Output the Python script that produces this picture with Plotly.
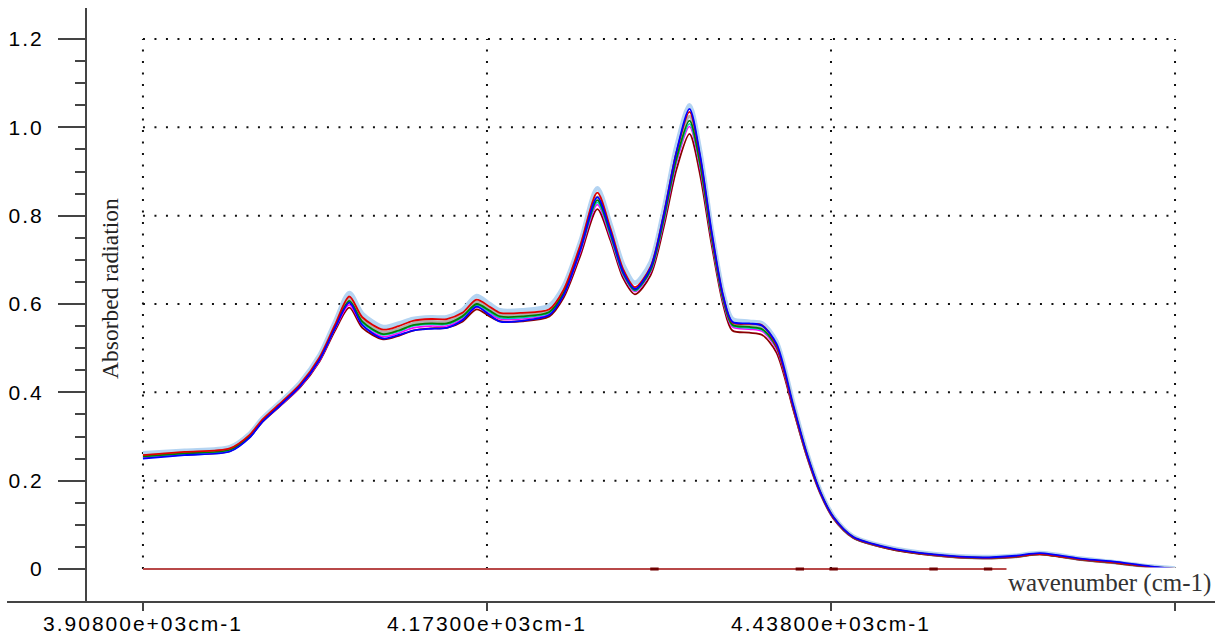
import plotly.graph_objects as go

wavenumber = [3908, 3940, 3975, 3990, 4000, 4016, 4029, 4044, 4056, 4067, 4077, 4093, 4105, 4116, 4130,
              4142, 4154, 4165, 4175, 4183, 4200, 4221, 4232, 4245, 4258, 4268, 4278, 4287, 4299, 4309,
              4319, 4329, 4337, 4346, 4355, 4362, 4375, 4385, 4396, 4409, 4419, 4430, 4440, 4455, 4481,
              4517, 4555, 4580, 4599, 4632, 4658, 4684, 4703]

spec_lightblue = [0.262, 0.268, 0.276, 0.306, 0.341, 0.384, 0.422, 0.484, 0.560, 0.625, 0.578, 0.548, 0.556, 0.566, 0.570,
                  0.570, 0.586, 0.618, 0.600, 0.586, 0.586, 0.596, 0.640, 0.742, 0.862, 0.782, 0.688, 0.648, 0.694, 0.812,
                  0.958, 1.050, 0.950, 0.772, 0.625, 0.566, 0.560, 0.556, 0.515, 0.375, 0.268, 0.176, 0.119, 0.074, 0.050,
                  0.034, 0.027, 0.030, 0.036, 0.023, 0.015, 0.006, 0.001]
spec_gray = [0.256, 0.263, 0.271, 0.301, 0.336, 0.379, 0.416, 0.477, 0.550, 0.612, 0.565, 0.536, 0.544, 0.556, 0.560,
             0.560, 0.576, 0.605, 0.589, 0.576, 0.576, 0.585, 0.628, 0.729, 0.842, 0.766, 0.674, 0.635, 0.680, 0.795,
             0.937, 1.025, 0.928, 0.756, 0.613, 0.555, 0.551, 0.547, 0.506, 0.368, 0.263, 0.172, 0.116, 0.072, 0.048,
             0.032, 0.025, 0.028, 0.034, 0.021, 0.014, 0.005, 0.0]
spec_darkred = [0.252, 0.259, 0.267, 0.298, 0.333, 0.375, 0.411, 0.470, 0.540, 0.592, 0.546, 0.520, 0.528, 0.540, 0.545,
                0.546, 0.560, 0.588, 0.572, 0.561, 0.561, 0.572, 0.614, 0.710, 0.815, 0.745, 0.658, 0.622, 0.665, 0.772,
                0.905, 0.985, 0.895, 0.735, 0.598, 0.540, 0.535, 0.530, 0.490, 0.360, 0.259, 0.170, 0.114, 0.071, 0.047,
                0.031, 0.024, 0.027, 0.033, 0.020, 0.013, 0.004, 0.0]
spec_magenta = [0.253, 0.260, 0.268, 0.299, 0.334, 0.376, 0.413, 0.472, 0.544, 0.598, 0.552, 0.526, 0.534, 0.546, 0.550,
                0.550, 0.566, 0.593, 0.578, 0.566, 0.566, 0.577, 0.620, 0.718, 0.825, 0.752, 0.664, 0.628, 0.672, 0.782,
                0.920, 1.002, 0.910, 0.745, 0.605, 0.548, 0.543, 0.538, 0.498, 0.364, 0.261, 0.171, 0.115, 0.072, 0.048,
                0.032, 0.025, 0.028, 0.034, 0.021, 0.014, 0.005, 0.0]
spec_cyan = [0.254, 0.261, 0.269, 0.300, 0.335, 0.378, 0.415, 0.475, 0.547, 0.604, 0.557, 0.530, 0.538, 0.550, 0.554,
             0.554, 0.570, 0.597, 0.582, 0.569, 0.569, 0.580, 0.623, 0.722, 0.830, 0.756, 0.667, 0.630, 0.675, 0.786,
             0.925, 1.008, 0.915, 0.749, 0.608, 0.551, 0.546, 0.541, 0.501, 0.366, 0.262, 0.172, 0.116, 0.072, 0.048,
             0.032, 0.025, 0.028, 0.034, 0.021, 0.014, 0.005, 0.0]
spec_green = [0.255, 0.262, 0.270, 0.300, 0.335, 0.378, 0.415, 0.475, 0.548, 0.607, 0.560, 0.532, 0.540, 0.552, 0.556,
              0.556, 0.572, 0.600, 0.585, 0.572, 0.572, 0.582, 0.625, 0.725, 0.835, 0.760, 0.670, 0.632, 0.677, 0.790,
              0.930, 1.015, 0.920, 0.752, 0.610, 0.553, 0.548, 0.543, 0.503, 0.367, 0.263, 0.172, 0.116, 0.072, 0.048,
              0.032, 0.025, 0.028, 0.034, 0.021, 0.014, 0.005, 0.0]
spec_red = [0.258, 0.265, 0.273, 0.303, 0.338, 0.381, 0.418, 0.479, 0.553, 0.617, 0.570, 0.542, 0.550, 0.562, 0.566,
            0.566, 0.580, 0.610, 0.594, 0.580, 0.580, 0.588, 0.632, 0.734, 0.852, 0.772, 0.678, 0.638, 0.684, 0.800,
            0.944, 1.035, 0.935, 0.760, 0.616, 0.558, 0.555, 0.552, 0.505, 0.366, 0.262, 0.171, 0.116, 0.072, 0.048,
            0.032, 0.025, 0.028, 0.034, 0.021, 0.014, 0.005, 0.0]
spec_blue = [0.250, 0.258, 0.266, 0.297, 0.333, 0.377, 0.414, 0.474, 0.546, 0.603, 0.552, 0.522, 0.530, 0.540, 0.544,
             0.546, 0.563, 0.594, 0.575, 0.560, 0.562, 0.575, 0.620, 0.724, 0.842, 0.765, 0.672, 0.634, 0.682, 0.800,
             0.945, 1.042, 0.940, 0.765, 0.618, 0.560, 0.556, 0.551, 0.510, 0.370, 0.265, 0.173, 0.117, 0.073, 0.049,
             0.033, 0.026, 0.030, 0.036, 0.023, 0.016, 0.006, 0.0]

zero_line_x = [3908, 4700]
zero_line_y = [0, 0]
zero_marks_x = [4302, 4414, 4440, 4517, 4559]
zero_marks_y = [0, 0, 0, 0, 0]

x_tick_vals = [3908, 4173, 4438, 4703]
x_tick_text = ["3.90800e+03cm-1", "4.17300e+03cm-1", "4.43800e+03cm-1", ""]
y_tick_vals = [0, 0.2, 0.4, 0.6, 0.8, 1.0, 1.2]
y_tick_text = ["0", "0.2", "0.4", "0.6", "0.8", "1.0", "1.2"]
y_minor_vals = [0.05, 0.1, 0.15, 0.25, 0.3, 0.35, 0.45, 0.5, 0.55, 0.65, 0.7, 0.75,
                0.85, 0.9, 0.95, 1.05, 1.1, 1.15]

series = [
    (spec_lightblue, "#b4d4f2", 4.5),
    (spec_gray, "#b0b0b0", 3.2),
    (spec_darkred, "#8b0000", 1.8),
    (spec_magenta, "#ff00ff", 1.6),
    (spec_cyan, "#00c8c8", 1.6),
    (spec_green, "#008000", 1.8),
    (spec_red, "#e00000", 1.8),
    (spec_blue, "#0000ff", 1.8),
]

fig = go.Figure()
for vals, color, w in series:
    fig.add_trace(go.Scatter(x=wavenumber, y=vals, mode="lines",
                             line=dict(color=color, width=w, shape="spline", smoothing=0.8),
                             showlegend=False, hoverinfo="skip"))

fig.add_trace(go.Scatter(x=zero_line_x, y=zero_line_y, mode="lines",
                         line=dict(color="#b84848", width=2), showlegend=False))
fig.add_trace(go.Scatter(x=zero_marks_x, y=zero_marks_y, mode="markers",
                         marker=dict(symbol="line-ew", size=6, line=dict(color="#700000", width=3)),
                         showlegend=False))

shapes = []
for xv in x_tick_vals:
    shapes.append(dict(type="line", xref="x", yref="y", x0=xv, x1=xv, y0=0, y1=y_tick_vals[-1],
                       line=dict(color="#111", width=2, dash="2px,9.5px"), layer="below"))
for yv in y_tick_vals[1:]:
    shapes.append(dict(type="line", xref="x", yref="y", x0=x_tick_vals[0], x1=x_tick_vals[-1], y0=yv, y1=yv,
                       line=dict(color="#111", width=2, dash="2px,9.5px"), layer="below"))
# x axis baseline extending left of the y axis
shapes.append(dict(type="line", xref="paper", yref="paper", x0=-0.0709, x1=1, y0=0, y1=0,
                   line=dict(color="#444", width=2)))

def spaced(t, s=2):
    return f'<span style="letter-spacing:{s}px">{t}</span>' if t else t

fig.update_layout(
    width=1225, height=639,
    margin=dict(l=87, r=10, t=8, b=37),
    paper_bgcolor="white", plot_bgcolor="white",
    shapes=shapes,
    xaxis=dict(range=[3864.9, 4733.8], showgrid=False, zeroline=False, showline=False, automargin=False,
               tickmode="array", tickvals=x_tick_vals, ticktext=[spaced(t) for t in x_tick_text],
               ticks="outside", ticklen=8, tickwidth=2, tickcolor="#444",
               ticklabelstandoff=-5,
               tickfont=dict(family="Liberation Sans, Arial", size=21, color="#000")),
    yaxis=dict(range=[-0.0747, 1.2702], showgrid=False, zeroline=False, showline=True, automargin=False,
               linecolor="#444", linewidth=2,
               tickmode="array", tickvals=y_tick_vals, ticktext=[spaced(t) for t in y_tick_text],
               ticks="outside", ticklen=27, tickwidth=2, tickcolor="#444",
               ticklabelstandoff=10,
               tickfont=dict(family="Liberation Sans, Arial", size=21, color="#000"),
               minor=dict(tickmode="array", tickvals=y_minor_vals, ticks="outside",
                          ticklen=10, tickwidth=2, tickcolor="#444")),
    annotations=[
        dict(text="Absorbed radiation", xref="paper", yref="paper", x=0.0204, y=0.527,
             textangle=-90, showarrow=False, xanchor="center", yanchor="middle",
             font=dict(family="Liberation Serif, Times New Roman", size=23.5, color="#222")),
        dict(text="wavenumber (cm-1)", xref="paper", yref="paper", x=0.998, y=0.032,
             showarrow=False, xanchor="right", yanchor="middle", bgcolor="white",
             font=dict(family="Liberation Serif, Times New Roman", size=25, color="#333")),
    ],
)

fig.write_html("out.html")
